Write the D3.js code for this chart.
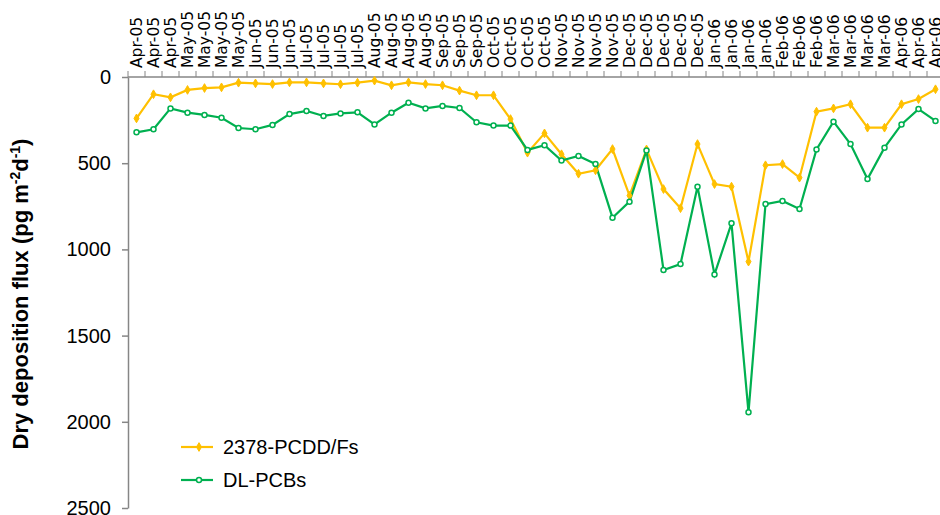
<!DOCTYPE html>
<html>
<head>
<meta charset="utf-8">
<script src="https://cdn.jsdelivr.net/npm/d3@7"></script>
<style>
  body { margin: 0; background: #fff; }
  svg { display: block; }
</style>
</head>
<body>
<svg class="chart"></svg>
<script>
// sampling dates (several samples per month)
var categories = [
  "Apr-05", "Apr-05", "Apr-05",
  "May-05", "May-05", "May-05", "May-05",
  "Jun-05", "Jun-05", "Jun-05",
  "Jul-05", "Jul-05", "Jul-05", "Jul-05",
  "Aug-05", "Aug-05", "Aug-05", "Aug-05",
  "Sep-05", "Sep-05", "Sep-05",
  "Oct-05", "Oct-05", "Oct-05", "Oct-05",
  "Nov-05", "Nov-05", "Nov-05", "Nov-05",
  "Dec-05", "Dec-05", "Dec-05", "Dec-05", "Dec-05",
  "Jan-06", "Jan-06", "Jan-06", "Jan-06",
  "Feb-06", "Feb-06", "Feb-06",
  "Mar-06", "Mar-06", "Mar-06", "Mar-06",
  "Apr-06", "Apr-06", "Apr-06"
];

var pcdd = [
  240, 100, 118, 75, 64, 60, 33, 37, 41, 31, 31, 37, 42, 33, 21, 48,
  31, 41, 48, 79, 106, 106, 244, 439, 327, 448, 561, 541, 418, 688,
  420, 650, 761, 389, 621, 636, 1071, 512, 505, 584, 201, 182, 158,
  294, 294, 158, 128, 71
];

var pcb = [
  321, 303, 182, 207, 220, 236, 296, 303, 278, 215, 197, 226, 211, 205, 275, 207,
  149, 182, 168, 180, 263, 282, 282, 423, 396, 485, 458, 505, 816, 723,
  427, 1119, 1085, 636, 1145, 849, 1945, 737, 719, 766, 420, 259, 389,
  592, 410, 275, 186, 255
];

var yTicks = [0, 500, 1000, 1500, 2000, 2500];

var seriesNames = ["2378-PCDD/Fs", "DL-PCBs"];

var axisGrey = "#868686";
var yellow = "#FFC000";
var green = "#00B050";

var svg = d3.select(".chart")
    .attr("width", 940)
    .attr("height", 515);

var plotLeft = 128, plotTop = 77, step = 17;

var x = d3.scaleBand()
    .domain(d3.range(categories.length))
    .range([plotLeft, plotLeft + step * categories.length])
    .padding(0);

var y = d3.scaleLinear()
    .domain([0, 2500])
    .range([plotTop, 508]);

function cx(d, i) { return x(i) + x.bandwidth() / 2; }

// y axis (values grow downwards)
var yAxis = svg.append("g")
    .attr("transform", "translate(" + plotLeft + ",0)")
    .call(d3.axisLeft(y)
      .tickValues(yTicks)
      .tickFormat(d3.format("d"))
      .tickSize(6)
      .tickPadding(11)
      .tickSizeOuter(0));

yAxis.select(".domain").attr("stroke", axisGrey).attr("stroke-width", 1.5);
yAxis.selectAll(".tick line").attr("stroke", axisGrey).attr("stroke-width", 1.5);
yAxis.selectAll(".tick text")
    .style("font-family", "'Liberation Sans', Arial, sans-serif")
    .style("font-size", "20px")
    .attr("fill", "#000");

// x axis along the top, ticks between categories
var xAxis = svg.append("g")
    .attr("transform", "translate(0," + plotTop + ")")
    .call(d3.axisTop(x).tickSize(0).tickFormat(function(i) { return categories[i]; }));

xAxis.select(".domain").remove();

xAxis.append("line")
    .attr("x1", plotLeft)
    .attr("x2", 940)
    .attr("y1", 0)
    .attr("y2", 0)
    .attr("stroke", axisGrey)
    .attr("stroke-width", 1.5);

xAxis.selectAll(".sep")
    .data(d3.range(categories.length + 1))
    .enter().append("line")
    .attr("class", "sep")
    .attr("x1", function(i) { return i < categories.length ? x(i) : x(i - 1) + x.bandwidth(); })
    .attr("x2", function(i) { return i < categories.length ? x(i) : x(i - 1) + x.bandwidth(); })
    .attr("y1", 0)
    .attr("y2", -6)
    .attr("stroke", axisGrey)
    .attr("stroke-width", 1);

xAxis.selectAll(".tick text")
    .attr("transform", "rotate(-90)")
    .attr("x", 9)
    .attr("y", 5)
    .attr("dy", 0)
    .style("text-anchor", "start")
    .style("font-family", "'DejaVu Sans', sans-serif")
    .style("font-size", "15.5px")
    .attr("fill", "#000");

// axis title
var title = svg.append("text")
    .attr("transform", "translate(28,294) rotate(-90)")
    .style("text-anchor", "middle")
    .style("font-family", "'Liberation Sans', Arial, sans-serif")
    .style("font-size", "22px")
    .style("font-weight", "bold");

title.append("tspan").text("Dry deposition flux (pg m");
title.append("tspan").attr("dy", -8).style("font-size", "14px").text("-2");
title.append("tspan").attr("dy", 8).text("d");
title.append("tspan").attr("dy", -8).style("font-size", "14px").text("-1");
title.append("tspan").attr("dy", 8).text(")");

// lines
var line = d3.line()
    .x(function(d, i) { return cx(d, i); })
    .y(function(d) { return y(d); });

svg.append("path")
    .datum(pcdd)
    .attr("d", line)
    .attr("fill", "none")
    .attr("stroke", yellow)
    .attr("stroke-width", 2.2);

svg.append("path")
    .datum(pcb)
    .attr("d", line)
    .attr("fill", "none")
    .attr("stroke", green)
    .attr("stroke-width", 2.2);

var diamond = d3.symbol().type(d3.symbolDiamond).size(22);

svg.selectAll(".pcdd")
    .data(pcdd)
    .enter().append("path")
    .attr("class", "pcdd")
    .attr("d", diamond)
    .attr("transform", function(d, i) { return "translate(" + cx(d, i) + "," + y(d) + ")"; })
    .attr("fill", yellow)
    .attr("stroke", yellow);

svg.selectAll(".pcb")
    .data(pcb)
    .enter().append("circle")
    .attr("class", "pcb")
    .attr("cx", cx)
    .attr("cy", function(d) { return y(d); })
    .attr("r", 2.5)
    .attr("fill", "#fff")
    .attr("stroke", green)
    .attr("stroke-width", 1.5);

// legend
var legend = svg.append("g");

var items = legend.selectAll("g")
    .data(seriesNames)
    .enter().append("g")
    .attr("transform", function(d, i) { return "translate(181," + (447 + i * 33) + ")"; });

items.append("line")
    .attr("x1", 0)
    .attr("x2", 32)
    .attr("stroke", function(d, i) { return i === 0 ? yellow : green; })
    .attr("stroke-width", 2.2);

items.filter(function(d, i) { return i === 0; }).append("path")
    .attr("d", diamond)
    .attr("transform", "translate(18,0)")
    .attr("fill", yellow)
    .attr("stroke", yellow);

items.filter(function(d, i) { return i === 1; }).append("circle")
    .attr("cx", 18)
    .attr("r", 2.5)
    .attr("fill", "#fff")
    .attr("stroke", green)
    .attr("stroke-width", 1.5);

items.append("text")
    .attr("x", 42)
    .attr("dy", "0.35em")
    .style("font-family", "'Liberation Sans', Arial, sans-serif")
    .style("font-size", "20px")
    .text(function(d) { return d; });
</script>
</body>
</html>
